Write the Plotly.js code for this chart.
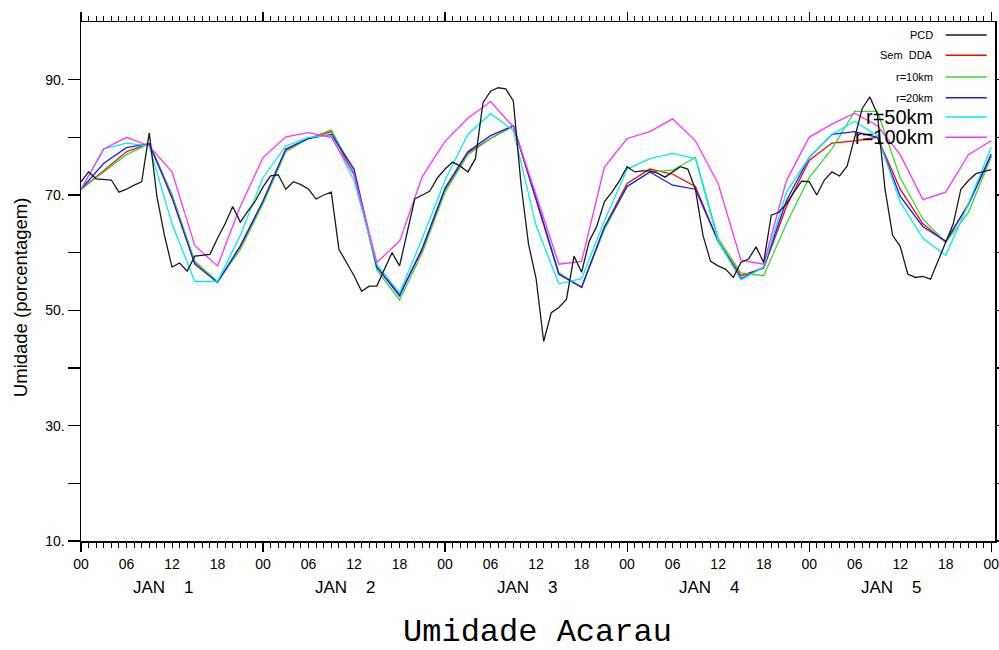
<!DOCTYPE html>
<html><head><meta charset="utf-8">
<script src="https://cdn.plot.ly/plotly-3.0.1.min.js"></script>
<style>body{margin:0;background:#fff}</style>
</head><body><div id="chart" style="width:999px;height:650px"></div>
<script>
// ---- data ----
const seriesNames = ["PCD", "Sem  DDA", "r=10km", "r=20km", "r=50km", "r=100km"];
const seriesColors = ["#1a1a1a", "#ff0000", "#33dd33", "#1a1aff", "#00f0f0", "#ff33ff"];

const pcdHours = [0,1,2,3,4,5,6,7,8,9,10,11,12,13,14,15,16,17,18,19,20,21,22,23,24,25,26,27,28,29,30,31,32,33,34,35,36,37,38,39,40,41,42,43,44,45,46,47,48,49,50,51,52,53,54,55,56,57,58,59,60,61,62,63,64,65,66,67,68,69,70,71,72,73,74,75,76,77,78,79,80,81,82,83,84,85,86,87,88,89,90,91,92,93,94,95,96,97,98,99,100,101,102,103,104,105,106,107,108,109,110,111,112,113,114,115,116,117,118,119,120];
const pcd = [72.3,74,72.8,72.7,72.6,70.5,71,71.7,72.3,80.8,
  69.8,63,57.5,58.2,56.8,59.4,59.5,59.7,62.5,65,
  68,65.3,67.2,69,71.4,73.3,73.5,71,72.3,71.8,
  71,69.3,70,70.5,60.6,58.3,56,53.3,54.2,54.2,
  57,60,57.7,63.5,69.3,70,70.7,73,74.5,75.7,
  75,74,76.3,86,88,88.6,88.4,86.3,72,61.5,
  55.5,44.6,49.6,50.5,51.9,59.4,56.6,62,64.6,68.8,
  70.5,72.5,74.9,74,74.2,74.2,73.8,73.1,74,74.9,
  74.5,71,63,58.5,57.7,57.1,55.7,58.3,58.9,61,
  58.3,66.5,67,68.5,70.5,72.4,72.3,70,72.6,74,
  73.3,75,80,85,87,84,71,63,61.1,56.3,
  55.7,55.9,55.4,58.5,61.8,65,71,72.5,73.7,74,
  74.4];

const modelHours = [0,3,6,9,12,15,18,21,24,27,30,33,36,39,42,45,48,51,54,57,60,63,66,69,72,75,78,81,84,87,90,93,96,99,102,105,108,111,114,117,120];
const semDDA = [71,74.3,77.5,78.9,70,58.3,55,61,68.8, 77.8,79.8,81,73.5,57.5,52.8,60.5,71, 77.3,79.8,82,69.3,56.3,54,64.4,72, 74.5,73.6,71.5,62,56,57.3,68,76, 79,79.4,80,71,65,61.8,68.5,76.8];
const r10km = [71,74,77,78.9,70,58.5,55,60.5,68.5, 77.5,79.8,81.3,74,57,51.8,60,70.5, 77,79.8,82,69.5,56.5,54,64,71.5, 74,74.3,76.5,62.5,56.5,56,65,73, 78,84.5,84.5,73,65.8,61.8,67,76.6];
const r20km = [71,75.5,78.2,78.9,69.5,58,54.8,61.2,69, 78,79.8,80.5,74.5,57.5,52.5,60.8,71.2, 77.5,80.3,82,69.3,56.3,54,64.4,71.5, 74,71.7,71,62,55.5,57.5,69,76.5, 80.5,81,80,69.8,64.5,62,68.3,77.1];
const r50km = [71,78,79,78.5,65,55,55,63,73, 78.5,80,80.3,72.5,58,53,62.5,72.6, 80.5,84.1,81.2,64.7,54.6,55.5,65.5,74.5, 76.3,77.2,76.3,62,55.3,57.5,70.5,76.5, 80.5,82.8,80.3,68.8,62.5,59.5,68.5,78.3];
const r100km = [71,78,80,78.5,74,61.2,57.7,68,76.5, 80.1,80.8,80,73.5,58.3,62,73.2,79.3, 83.3,86.2,81.8,70,58,58.5,74.8,79.8, 81,83.2,79.4,72,58.7,58,72.5,80, 82.3,84.2,82,77,69.2,70.5,77,79.4];

const xTickVals = [0,6,12,18,24,30,36,42,48,54,60,66,72,78,84,90,96,102,108,114,120];
const xTickText = ["00","06","12","18","00","06","12","18","00","06","12","18","00","06","12","18","00","06","12","18","00"];
const dayTickVals = [0,24,48,72,96,120];
const dayLabels = ["JAN    1","JAN    2","JAN    3","JAN    4","JAN    5"];
const yTickVals = [10,20,30,40,50,60,70,80,90];
const yTickText = ["10.","","30.","","50.","","70.","","90."];
const yTitle = "Umidade (porcentagem)";
const chartTitle = "Umidade Acarau";

// ---- traces ----
const modelSeries = [semDDA, r10km, r20km, r50km, r100km];
const traces = [{
  x: pcdHours, y: pcd, type: "scatter", mode: "lines", xaxis: "x2",
  line: {color: seriesColors[0], width: 1.3}, name: seriesNames[0], showlegend: false
}];
modelSeries.forEach((s, i) => traces.push({
  x: modelHours, y: s, type: "scatter", mode: "lines",
  line: {color: seriesColors[i + 1], width: 1.3}, name: seriesNames[i + 1], showlegend: false
}));

// ---- legend (text left, line sample right) ----
const legendRowsY = [0.975, 0.936, 0.894, 0.854, 0.817, 0.778];
const legendFontSizes = [11, 11, 11, 11, 20, 20];
const annotations = [];
const shapes = [];
seriesNames.forEach((n, i) => {
  annotations.push({xref: "paper", yref: "paper", x: 0.934, y: legendRowsY[i], xanchor: "right", yanchor: "middle",
    text: n.replace(/ /g, "\u00a0"), showarrow: false,
    font: {family: "Liberation Sans, Arial, sans-serif", size: legendFontSizes[i], color: "#000"}});
  shapes.push({type: "line", xref: "paper", yref: "paper", x0: 0.946, x1: 0.991, y0: legendRowsY[i], y1: legendRowsY[i],
    line: {color: seriesColors[i], width: 1.5}});
});
dayLabels.forEach((d, i) => {
  annotations.push({xref: "x", yref: "paper", x: dayTickVals[i] + 10.8, y: -0.09, xanchor: "center", yanchor: "middle",
    text: d.replace(/ /g, "\u00a0"), showarrow: false,
    font: {family: "Liberation Sans, Arial, sans-serif", size: 17, color: "#000"}});
});
annotations.push({xref: "paper", yref: "paper", x: -0.0667, y: 0.468, xanchor: "center", yanchor: "middle",
  textangle: -90, text: yTitle, showarrow: false,
  font: {family: "Liberation Sans, Arial, sans-serif", size: 18.5, color: "#000"}});

const tickFont = {family: "Liberation Sans, Arial, sans-serif", size: 14, color: "#000"};
const layout = {
  width: 999, height: 650,
  margin: {l: 81, r: 4, t: 22, b: 109},
  paper_bgcolor: "#fff", plot_bgcolor: "#fff",
  showlegend: false,
  title: {text: chartTitle, font: {family: "Liberation Mono, Courier New, monospace", size: 32, color: "#000"},
    xref: "container", yref: "container", x: 0.538, y: 0.031, xanchor: "center", yanchor: "middle"},
  xaxis: {range: [0, 120.5], tickmode: "array", tickvals: xTickVals, ticktext: xTickText,
    ticks: "outside", ticklen: 5, tickwidth: 1, tickcolor: "#000", tickfont: tickFont,
    ticklabelstandoff: 5, ticklabeloverflow: "allow",
    showline: true, linecolor: "#000", linewidth: 1.5, mirror: "allticks", showgrid: false, zeroline: false,
    minor: {tickmode: "linear", tick0: 0, dtick: 1, ticks: "outside", ticklen: 5, tickwidth: 1, tickcolor: "#000", showgrid: false}},
  xaxis2: {overlaying: "x", matches: "x", side: "bottom", range: [0, 120.5], tickmode: "array", tickvals: dayTickVals,
    showticklabels: false, ticks: "outside", ticklen: 9, tickwidth: 1.2, tickcolor: "#000",
    showline: true, linecolor: "#000", linewidth: 1.5, mirror: "allticks", showgrid: false, zeroline: false},
  yaxis: {range: [10, 100], tickmode: "array", tickvals: yTickVals, ticktext: yTickText,
    ticks: "outside", ticklen: 12, tickwidth: 1.2, tickcolor: "#000", tickfont: tickFont,
    showline: true, linecolor: "#000", linewidth: 1.5, mirror: "allticks", showgrid: false, zeroline: false},
  annotations: annotations,
  shapes: shapes
};

Plotly.newPlot("chart", traces, layout, {displayModeBar: false, staticPlot: true});
</script>
</body></html>
